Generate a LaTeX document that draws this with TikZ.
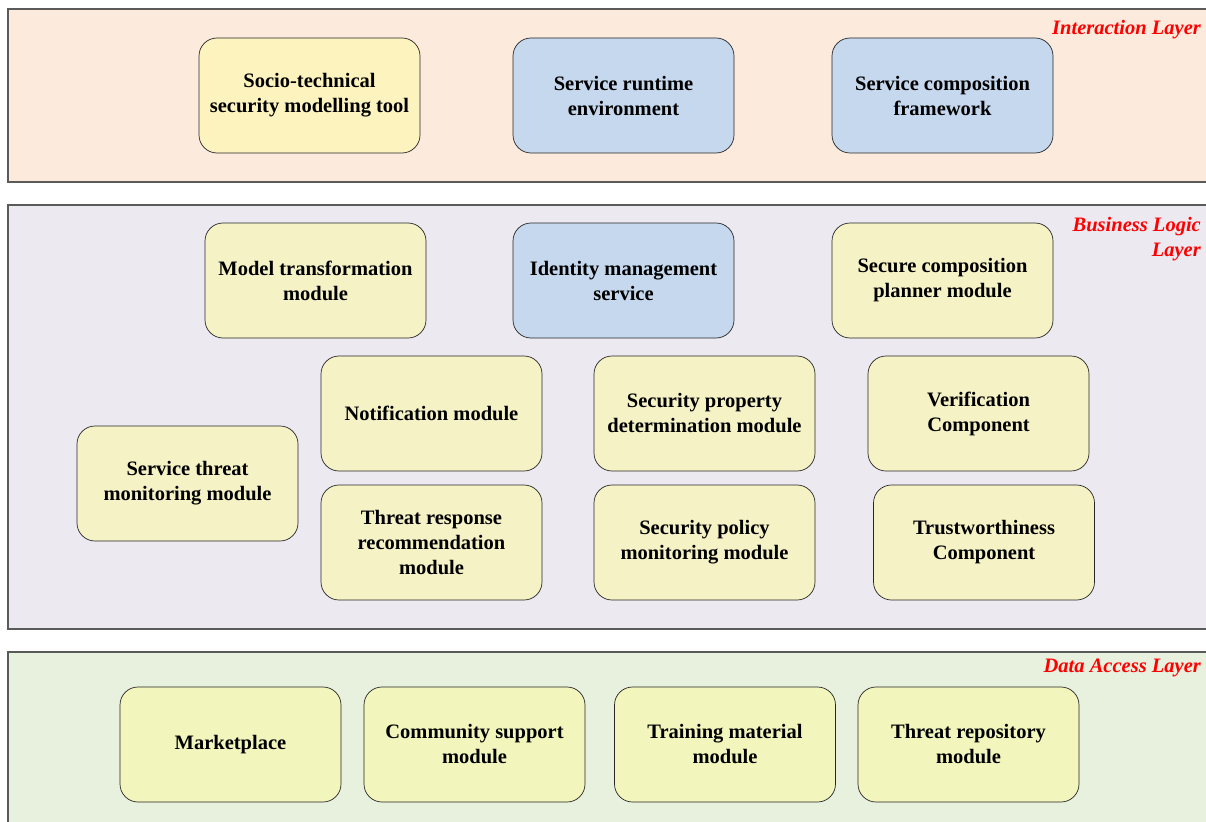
\documentclass[tikz,border=0pt]{standalone}
\usepackage{fontspec}
\setmainfont{Liberation Serif}
\definecolor{interbg}{RGB}{252,234,220}
\definecolor{busbg}{RGB}{236,233,241}
\definecolor{databg}{RGB}{232,240,222}
\definecolor{yelA}{RGB}{252,243,190}
\definecolor{yelB}{RGB}{245,242,198}
\definecolor{yelC}{RGB}{242,246,188}
\definecolor{bluebox}{RGB}{197,216,238}
\definecolor{framegray}{RGB}{90,90,90}
\tikzset{
  layerbox/.style={draw=framegray, line width=1.1pt},
  layerlabel/.style={text=red, font=\fontsize{20.5}{25}\selectfont\bfseries\itshape, anchor=north east, align=right, inner sep=0pt},
  module/.style={draw=black!85, line width=0.7pt, rounded corners=18pt,
    minimum width=221pt, minimum height=115pt, align=center, inner sep=2pt,
    font=\fontsize{20.5}{25}\selectfont\bfseries},
  modA/.style={module, fill=yelA},
  modB/.style={module, fill=yelB},
  modC/.style={module, fill=yelC},
  modS/.style={module, fill=bluebox}
}
\begin{document}
\begin{tikzpicture}[x=1pt,y=-1pt]
\useasboundingbox (0,0) rectangle (1206,821);
\clip (0,0) rectangle (1206,821);
% layer frames
\draw[layerbox, fill=interbg] (8,9) rectangle (1220,182);
\draw[layerbox, fill=busbg] (8,205) rectangle (1220,629);
\draw[layerbox, fill=databg] (8,652) rectangle (1220,840);
\node[layerlabel] (linter) at (1201,20) {Interaction Layer};
\node[layerlabel] (lbus) at (1201,217) {Business Logic\\Layer};
\node[layerlabel] (ldata) at (1201,659) {Data Access Layer};
% interaction layer
\node[modA] (stool) at (309.5,95.5) {Socio-technical\\security modelling tool};
\node[modS] (runtime) at (623.5,95.5) {Service runtime\\environment};
\node[modS] (compfw) at (942.5,95.5) {Service composition\\framework};
% business logic layer
\node[modB] (mtrans) at (315.5,280.5) {Model transformation\\module};
\node[modS] (idm) at (623.5,280.5) {Identity management\\service};
\node[modB] (planner) at (942.5,280.5) {Secure composition\\planner module};
\node[modB] (notif) at (431.5,413.5) {Notification module};
\node[modB] (secprop) at (704.5,413.5) {Security property\\determination module};
\node[modB] (verif) at (978.5,413.5) {Verification\\Component};
\node[modB] (threatmon) at (187.5,483.5) {Service threat\\monitoring module};
\node[modB] (threatrec) at (431.5,542.5) {Threat response\\recommendation\\module};
\node[modB] (polmon) at (704.5,542.5) {Security policy\\monitoring module};
\node[modB] (trust) at (984,542.5) {Trustworthiness\\Component};
% data access layer
\node[modC] (market) at (230.5,744.5) {Marketplace};
\node[modC] (community) at (474.5,744.5) {Community support\\module};
\node[modC] (training) at (725,744.5) {Training material\\module};
\node[modC] (threatrepo) at (968.5,744.5) {Threat repository\\module};
\end{tikzpicture}
\end{document}
